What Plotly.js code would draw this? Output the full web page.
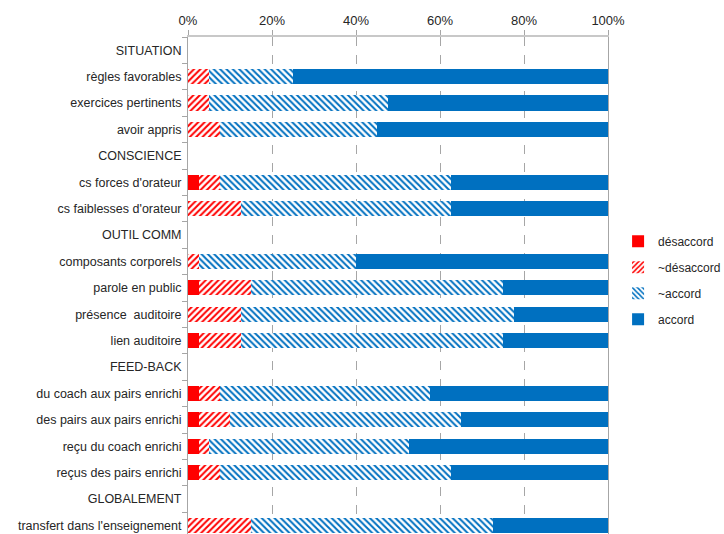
<!DOCTYPE html>
<html>
<head>
<meta charset="utf-8">
<script src="https://cdn.plot.ly/plotly-3.0.1.min.js"></script>
<style>html,body{margin:0;padding:0;background:#fff;}#chart{width:724px;height:534px;}</style>
</head>
<body>
<div id="chart"></div>
<script>
var categories = [
  "SITUATION",
  "règles favorables",
  "exercices pertinents",
  "avoir appris",
  "CONSCIENCE",
  "cs forces d'orateur",
  "cs faiblesses d'orateur",
  "OUTIL COMM",
  "composants corporels",
  "parole en public",
  "présence\u00a0 auditoire",
  "lien auditoire",
  "FEED-BACK",
  "du coach aux pairs enrichi",
  "des pairs aux pairs enrichi",
  "reçu du coach enrichi",
  "reçus des pairs enrichi",
  "GLOBALEMENT",
  "transfert dans l'enseignement"
];
var desaccord       = [null, 0, 0, 0, null, 2.5, 0, null, 0, 2.5, 0, 2.5, null, 2.5, 2.5, 2.5, 2.5, null, 0];
var presqueDesacc   = [null, 5, 5, 7.5, null, 5, 12.5, null, 2.5, 12.5, 12.5, 10, null, 5, 7.5, 2.5, 5, null, 15];
var presqueAccord   = [null, 20, 42.5, 37.5, null, 55, 50, null, 37.5, 60, 65, 62.5, null, 50, 55, 47.5, 55, null, 57.5];
var accord          = [null, 75, 52.5, 55, null, 37.5, 37.5, null, 60, 25, 22.5, 25, null, 42.5, 35, 47.5, 37.5, null, 27.5];
var seriesNames = ["désaccord", "~désaccord", "~accord", "accord"];
var xTickVals = [0, 20, 40, 60, 80, 100];
var xTickText = ["0%", "20%", "40%", "60%", "80%", "100%"];

var RED = "#FF0000", BLUE = "#0070C0";

function mk(name, vals, color, shape) {
  var m = {color: shape ? "#FFFFFF" : color, line: {width: 0}};
  if (shape) {
    m.pattern = {shape: shape, fgcolor: color, fgopacity: 1, bgcolor: "#FFFFFF", size: 4.5, solidity: 0.45, fillmode: "replace"};
  }
  return {
    type: "bar", orientation: "h", name: name,
    x: vals, y: categories, marker: m,
    legendgroup: name, hoverinfo: "skip"
  };
}

var data = [
  mk(seriesNames[0], desaccord, RED, ""),
  mk(seriesNames[1], presqueDesacc, RED, "/"),
  mk(seriesNames[2], presqueAccord, BLUE, "\\"),
  mk(seriesNames[3], accord, BLUE, "")
];

var rowPx = 26.4, plotH = 534 - 37;
var layout = {
  width: 724, height: 534,
  margin: {l: 188, r: 116, t: 37, b: 0, pad: 0, autoexpand: false},
  paper_bgcolor: "#FFFFFF", plot_bgcolor: "#FFFFFF",
  barmode: "stack", bargap: 0.42,
  font: {family: "Liberation Sans, Arial, sans-serif", size: 12.5, color: "#262626"},
  showlegend: true,
  legend: {
    x: 1.024, xanchor: "left", y: 0.618, yanchor: "top",
    traceorder: "grouped", tracegroupgap: 7,
    font: {size: 12, color: "#262626"},
    itemwidth: 30, bgcolor: "rgba(0,0,0,0)", borderwidth: 0
  },
  xaxis: {
    side: "top", range: [0, 100], tickmode: "array", tickvals: xTickVals, ticktext: xTickText,
    showgrid: true, gridcolor: "#A6A6A6", griddash: "dash", gridwidth: 1,
    zeroline: false, showline: true, linecolor: "#C8C8C8", linewidth: 2,
    ticks: "outside", ticklen: 5, tickcolor: "#A6A6A6",
    tickfont: {size: 13, color: "#262626"}, fixedrange: true
  },
  yaxis: {
    type: "category", categoryorder: "array", categoryarray: categories,
    range: [-0.5 + plotH / rowPx, -0.5],
    tickson: "boundaries", ticks: "outside", ticklen: 5, tickcolor: "#A6A6A6",
    showline: true, linecolor: "#A6A6A6", linewidth: 1, mirror: true,
    showgrid: false, zeroline: false, ticklabelstandoff: 3,
    tickfont: {size: 12.5, color: "#262626"}, fixedrange: true
  }
};

Plotly.newPlot("chart", data, layout, {displayModeBar: false, staticPlot: true});
</script>
</body>
</html>
